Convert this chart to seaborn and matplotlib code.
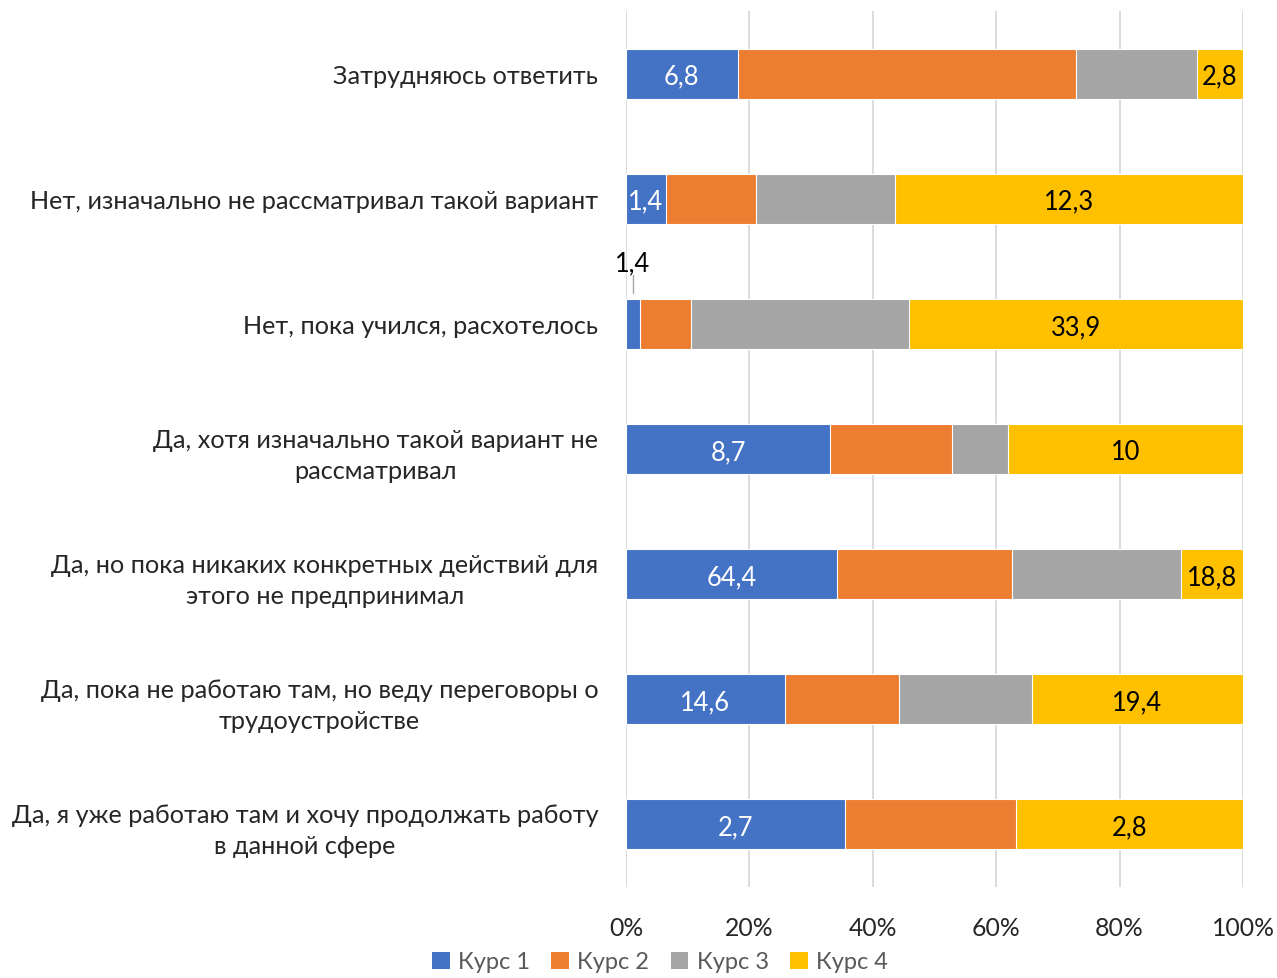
import matplotlib
matplotlib.use('Agg')
import matplotlib.pyplot as plt
import numpy as np
import pandas as pd
import seaborn as sns
from matplotlib.patches import Patch

# categories (top to bottom)
categories = [
    'Затрудняюсь ответить',
    'Нет, изначально не рассматривал такой вариант',
    'Нет, пока учился, расхотелось',
    'Да, хотя изначально такой вариант не\nрассматривал',
    'Да, но пока никаких конкретных действий для\nэтого не предпринимал',
    'Да, пока не работаю там, но веду переговоры о\nтрудоустройстве',
    'Да, я уже работаю там и хочу продолжать работу\nв данной сфере',
]
series = ['Курс 1', 'Курс 2', 'Курс 3', 'Курс 4']
kurs1 = [6.8, 1.4, 1.4, 8.7, 64.4, 14.6, 2.7]
kurs2 = [20.6, 3.2, 5.2, 5.2, 53.3, 10.5, 2.1]   # estimated, no labels
kurs3 = [7.4, 4.9, 22.2, 2.4, 51.5, 12.2, 0.0]   # estimated, no labels
kurs4 = [2.8, 12.3, 33.9, 10.0, 18.8, 19.4, 2.8]
colors = ['#4472C4', '#ED7D31', '#A5A5A5', '#FFC000']

df = pd.DataFrame({'cat': categories, 'Курс 1': kurs1, 'Курс 2': kurs2,
                   'Курс 3': kurs3, 'Курс 4': kurs4})
totals = df[series].sum(axis=1)
pct = df[series].div(totals, axis=0) * 100
cum = pct.cumsum(axis=1)
cum['cat'] = df['cat']

sns.set_theme(style='white')
plt.rcParams['font.family'] = ['Lato', 'DejaVu Sans']

fig = plt.figure(figsize=(12.77, 9.79), dpi=100)
ax = fig.add_axes([626 / 1277, 1 - 888 / 979, 617 / 1277, 876 / 979])

# overlay cumulative bars, widest first
for s, c in reversed(list(zip(series, colors))):
    sns.barplot(data=cum, x=s, y='cat', color=c, orient='h', width=0.4,
                edgecolor='white', linewidth=0.8, saturation=1, ax=ax, zorder=3)

ax.set_xlim(0, 100)
ax.set_ylim(6.5, -0.5)
ax.set_xticks(np.arange(0, 101, 20))
ax.set_xticklabels([f'{t}%' for t in range(0, 101, 20)], fontsize=17.8)
ax.tick_params(axis='x', length=0, pad=21)
ax.tick_params(axis='y', length=0, pad=20)
for lab in ax.get_yticklabels():
    lab.set_fontsize(18.2)
    lab.set_multialignment('center')
    lab.set_linespacing(1.4)
    lab.set_y(lab.get_position()[1])
ax.set_xlabel('')
ax.set_ylabel('')
ax.grid(axis='x', color='#D9D9D9', linewidth=1.3, zorder=0)
for sp in ax.spines.values():
    sp.set_visible(False)


def fmt(v):
    return f'{v:g}'.replace('.', ',')


# data labels for Курс 1 and Курс 4
for i in range(len(categories)):
    k1c = pct['Курс 1'][i] / 2
    if i == 2:
        ax.text(k1c, i - 0.49, fmt(kurs1[i]), ha='center', va='center',
                fontsize=18.4, color='black', zorder=5)
        ax.plot([k1c, k1c], [i - 0.39, i - 0.25], color='#A6A6A6', lw=1, zorder=5)
    else:
        ax.text(k1c, i + 0.02, fmt(kurs1[i]), ha='center', va='center',
                fontsize=18.4, color='white', zorder=5)
    k4c = cum['Курс 4'][i] - pct['Курс 4'][i] / 2
    ax.text(k4c, i + 0.02, fmt(kurs4[i]), ha='center', va='center',
            fontsize=18.4, color='black', zorder=5)

handles = [Patch(facecolor=c, edgecolor='none', label=s) for s, c in zip(series, colors)]
leg = fig.legend(handles=handles, loc='center', bbox_to_anchor=(660 / 1277, 1 - 963 / 979),
                 ncol=4, frameon=False, fontsize=17, handlelength=0.75, handleheight=0.75,
                 handletextpad=0.35, columnspacing=0.9)
for t in leg.get_texts():
    t.set_color('#595959')

fig.savefig('out.png', dpi=100)
